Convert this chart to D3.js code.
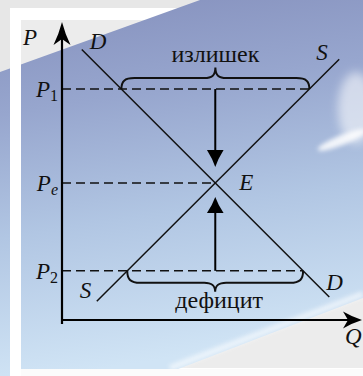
<!DOCTYPE html>
<html>
<head>
<meta charset="utf-8">
<script src="https://cdn.jsdelivr.net/npm/d3@7"></script>
<style>
  body { margin: 0; background: #e8e8e8; }
  svg { display: block; }
  text { font-family: "Liberation Serif", "DejaVu Serif", serif; fill: #111; }
  .it { font-style: italic; }
</style>
</head>
<body>
<script>
// market curves (q, p in chart units 0..10)
const demand = [{q: 0.66, p: 9.08}, {q: 8.91, p: 0.77}];
const supply = [{q: 1.16, p: 0.63}, {q: 9.24, p: 8.75}];
const priceLevels = [7.75, 4.6, 1.65];
const priceSubs = ["1", "e", "2"];
const gapLabels = ["излишек", "дефицит"];
const axisLabels = ["P", "Q"];
const curveNames = ["D", "S"];

const W = 363, H = 376;
const x = d3.scaleLinear().domain([0, 10]).range([62, 362]);
const y = d3.scaleLinear().domain([0, 10]).range([320, 22]);

const svg = d3.select("body").append("svg")
  .attr("width", W)
  .attr("height", H);

// ---- background (sky picture in a white frame)
const defs = svg.append("defs");
const grad = defs.append("linearGradient")
  .attr("id", "sky")
  .attr("x1", 0).attr("y1", 0).attr("x2", 0.15).attr("y2", 1);
[["0", "#8590bd"], ["0.3", "#97a6ce"], ["0.62", "#b1c6e3"], ["1", "#d0e4f5"]]
  .forEach(s => grad.append("stop").attr("offset", s[0]).attr("stop-color", s[1]));
defs.append("filter").attr("id", "blur").attr("x", "-50%").attr("y", "-50%")
  .attr("width", "200%").attr("height", "200%")
  .append("feGaussianBlur").attr("stdDeviation", 5);
defs.append("filter").attr("id", "blur2").attr("x", "-50%").attr("y", "-50%")
  .attr("width", "200%").attr("height", "200%")
  .append("feGaussianBlur").attr("stdDeviation", 2);

svg.append("rect").attr("width", W).attr("height", H).attr("fill", "#e7e7e7");
svg.append("rect").attr("x", 10).attr("y", 8).attr("width", W).attr("height", H)
  .attr("fill", "#fff");
svg.append("rect").attr("x", 21).attr("y", 20).attr("width", W).attr("height", 348)
  .attr("fill", "#ececec");
svg.append("polygon")
  .attr("points", "0,72 200,0 363,0 363,298 160,376 0,376")
  .attr("fill", "url(#sky)");
svg.append("ellipse").attr("cx", 356).attr("cy", 108).attr("rx", 18).attr("ry", 36)
  .attr("fill", "#fff").attr("opacity", 0.55).attr("filter", "url(#blur)");
svg.append("ellipse").attr("cx", 342).attr("cy", 140).attr("rx", 26).attr("ry", 5)
  .attr("transform", "rotate(-22,342,140)")
  .attr("fill", "#fff").attr("opacity", 0.85).attr("filter", "url(#blur2)");
svg.append("line").attr("x1", 170).attr("y1", 368).attr("x2", 363).attr("y2", 294)
  .attr("stroke", "#fff").attr("stroke-width", 6).attr("opacity", 0.6)
  .attr("filter", "url(#blur2)");
svg.append("rect").attr("x", 10).attr("y", 8).attr("width", 11).attr("height", H)
  .attr("fill", "#fff");
svg.append("rect").attr("x", 21).attr("y", 369).attr("width", W).attr("height", 8)
  .attr("fill", "#fbfbfb");

// ---- helpers
const g = svg.append("g");

function qAt(line, p) {
  const a = line[0], b = line[1];
  return a.q + (p - a.p) * (b.q - a.q) / (b.p - a.p);
}

function crossing(l1, l2) {
  const s1 = (l1[1].p - l1[0].p) / (l1[1].q - l1[0].q);
  const s2 = (l2[1].p - l2[0].p) / (l2[1].q - l2[0].q);
  const q = (l2[0].p - l1[0].p + s1 * l1[0].q - s2 * l2[0].q) / (s1 - s2);
  return {q: q, p: l1[0].p + s1 * (q - l1[0].q)};
}

// arrow head pointing up, tip at 0,0
function head(len, half, notch) {
  return `M0,0 Q${-half * 0.35},${len * 0.5} ${-half},${len} L0,${len - notch} L${half},${len} Q${half * 0.35},${len * 0.5} 0,0Z`;
}

function brace(x0, x1, y0, dir, arm, tip) {
  const xm = (x0 + x1) / 2;
  const yh = y0 + dir * arm;
  const yt = y0 + dir * tip;
  return `M${x0},${y0} C${x0},${y0 + dir * arm * 0.7} ${x0 + 3},${yh} ${x0 + 13},${yh}` +
    ` L${xm - 11},${yh} C${xm - 4},${yh} ${xm},${yh + dir * 2} ${xm},${yt}` +
    ` C${xm},${yh + dir * 2} ${xm + 4},${yh} ${xm + 11},${yh}` +
    ` L${x1 - 13},${yh} C${x1 - 3},${yh} ${x1},${y0 + dir * arm * 0.7} ${x1},${y0}`;
}

const eq = crossing(demand, supply);
const lineGen = d3.line().x(d => x(d.q)).y(d => y(d.p));

// ---- dashed price levels
const ends = [qAt(supply, priceLevels[0]), eq.q, qAt(demand, priceLevels[2])];
g.selectAll(".lvl")
  .data(priceLevels)
  .enter().append("line")
  .attr("class", "lvl")
  .attr("x1", x(0))
  .attr("x2", (d, i) => x(ends[i]))
  .attr("y1", d => y(d))
  .attr("y2", d => y(d))
  .attr("stroke", "#111")
  .attr("stroke-width", 1.5)
  .attr("stroke-dasharray", "9,5");

// ---- curves
g.selectAll(".curve")
  .data([demand, supply])
  .enter().append("path")
  .attr("class", "curve")
  .attr("d", lineGen)
  .attr("fill", "none")
  .attr("stroke", "#111")
  .attr("stroke-width", 1.5);

// ---- axes
g.append("line")
  .attr("x1", x(0)).attr("x2", x(0))
  .attr("y1", y(0) + 4).attr("y2", y(10) + 10)
  .attr("stroke", "#000").attr("stroke-width", 2.2);
g.append("line")
  .attr("x1", x(0) - 1).attr("x2", x(10) - 10)
  .attr("y1", y(0)).attr("y2", y(0))
  .attr("stroke", "#000").attr("stroke-width", 2.2);
g.append("path").attr("d", head(23, 8.5, 6))
  .attr("transform", `translate(${x(0)},${y(10)})`);
g.append("path").attr("d", head(19, 8.5, 5))
  .attr("transform", `translate(${x(10)},${y(0)}) rotate(90)`);

// ---- braces
const p1Left = qAt(demand, priceLevels[0]);
const p1Right = qAt(supply, priceLevels[0]);
const p2Left = qAt(supply, priceLevels[2]);
const p2Right = qAt(demand, priceLevels[2]);
g.append("path")
  .attr("d", brace(x(p1Left), x(p1Right), y(priceLevels[0]), -1, 11, 21.5))
  .attr("fill", "none").attr("stroke", "#111").attr("stroke-width", 2);
g.append("path")
  .attr("d", brace(x(p2Left), x(p2Right), y(priceLevels[2]), 1, 12, 21))
  .attr("fill", "none").attr("stroke", "#111").attr("stroke-width", 2);

g.append("text")
  .attr("x", (x(p1Left) + x(p1Right)) / 2)
  .attr("y", 62)
  .attr("text-anchor", "middle")
  .style("font-size", "24px")
  .text(gapLabels[0]);
g.append("text")
  .attr("x", (x(p2Left) + x(p2Right)) / 2 + 4)
  .attr("y", 308)
  .attr("text-anchor", "middle")
  .style("font-size", "24px")
  .text(gapLabels[1]);

// ---- adjustment arrows toward E
const ex = x(eq.q), ey = y(eq.p);
g.append("line")
  .attr("x1", ex).attr("x2", ex)
  .attr("y1", y(priceLevels[0])).attr("y2", ey - 30)
  .attr("stroke", "#000").attr("stroke-width", 2);
g.append("path").attr("d", head(17, 8.3, 0))
  .attr("transform", `translate(${ex},${ey - 16}) rotate(180)`);
g.append("line")
  .attr("x1", ex).attr("x2", ex)
  .attr("y1", y(priceLevels[2])).attr("y2", ey + 28)
  .attr("stroke", "#000").attr("stroke-width", 2);
g.append("path").attr("d", head(16, 8.3, 0))
  .attr("transform", `translate(${ex},${ey + 14})`);

// ---- labels
g.append("text").attr("class", "it")
  .attr("x", 23).attr("y", 45)
  .style("font-size", "23px")
  .text(axisLabels[0]);
g.append("text").attr("class", "it")
  .attr("x", 345).attr("y", 344)
  .style("font-size", "23px")
  .text(axisLabels[1]);

const plabels = g.selectAll(".plab")
  .data(priceLevels)
  .enter().append("text")
  .attr("class", "plab")
  .attr("x", 58)
  .attr("y", d => y(d) + 8)
  .attr("text-anchor", "end")
  .style("font-size", "23px");
plabels.append("tspan").attr("class", "it").text("P");
plabels.append("tspan")
  .attr("class", (d, i) => priceSubs[i] === "e" ? "it" : null)
  .attr("dy", 4)
  .style("font-size", "16px")
  .text((d, i) => priceSubs[i]);

g.append("text").attr("class", "it")
  .attr("x", ex + 24).attr("y", ey + 7)
  .style("font-size", "23px")
  .text("E");

// curve names at both ends
const nameSpots = [
  {t: curveNames[0], q: demand[0].q, p: demand[0].p, dx: 8, dy: 0},
  {t: curveNames[0], q: demand[1].q, p: demand[1].p, dx: -3, dy: -7},
  {t: curveNames[1], q: supply[1].q, p: supply[1].p, dx: -23, dy: 1},
  {t: curveNames[1], q: supply[0].q, p: supply[0].p, dx: -17, dy: -3}
];
g.selectAll(".cname")
  .data(nameSpots)
  .enter().append("text")
  .attr("class", "cname it")
  .attr("x", d => x(d.q) + d.dx)
  .attr("y", d => y(d.p) + d.dy)
  .style("font-size", "23px")
  .text(d => d.t);
</script>
</body>
</html>
